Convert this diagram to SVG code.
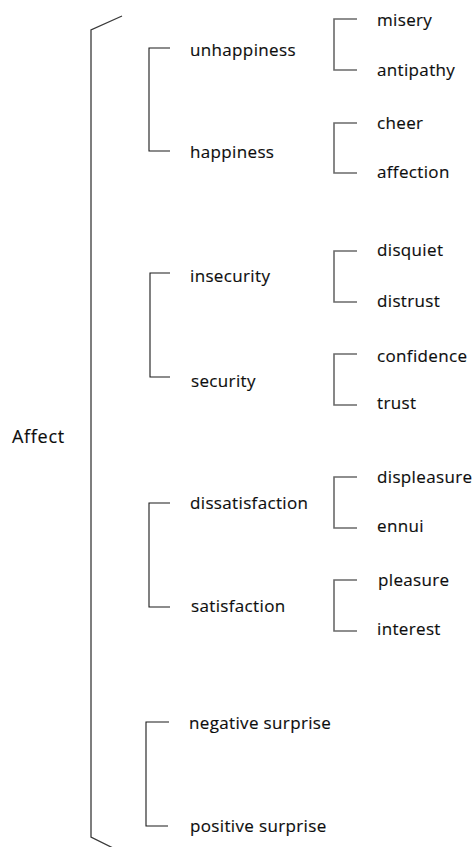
<svg xmlns="http://www.w3.org/2000/svg" width="475" height="847" viewBox="0 0 475 847">
  <style>
    .lbl { font-family: "Open Sans", "Liberation Sans", sans-serif; font-size: 17px; letter-spacing: 0.35px; fill: #0d0d0d; stroke: #0d0d0d; stroke-width: 0.15px; }
    .root { font-size: 18px; letter-spacing: 0.7px; }
    .brace { fill: none; stroke: #3a3a3a; stroke-width: 1.3; }
    .grp { fill: none; stroke: #1a1a1a; stroke-width: 1.1; }
    .sub { fill: none; stroke: #6a6a6a; stroke-width: 1.6; }
  </style>
  <rect width="475" height="847" fill="#ffffff"/>

  <!-- connectors: brackets -->
  <g id="connectors">
    <polyline class="brace" points="122,16 91,30 91,837 113,848"/>

    <polyline class="grp" points="170,48 149,48 149,151 170,151"/>
    <polyline class="grp" points="170,273 150,273 150,377 170,377"/>
    <polyline class="grp" points="170,503 149,503 149,607 170,607"/>
    <polyline class="grp" points="169,722 146,722 146,826 168,826"/>

    <polyline class="sub" points="357,19 334,19 334,70 357,70"/>
    <polyline class="sub" points="357,123 334,123 334,173 357,173"/>
    <polyline class="sub" points="357,251 334,251 334,302 357,302"/>
    <polyline class="sub" points="357,354 334,354 334,405 357,405"/>
    <polyline class="sub" points="357,477 334,477 334,528 357,528"/>
    <polyline class="sub" points="357,580 334,580 334,631 357,631"/>
  </g>

  <!-- root -->
  <g id="affect"><text class="lbl root" x="12" y="443">Affect</text></g>

  <!-- second level -->
  <g id="unhappiness"><text class="lbl" x="190" y="56">unhappiness</text></g>
  <g id="happiness"><text class="lbl" x="190" y="158">happiness</text></g>
  <g id="insecurity"><text class="lbl" x="190" y="282">insecurity</text></g>
  <g id="security"><text class="lbl" x="191" y="387">security</text></g>
  <g id="dissatisfaction"><text class="lbl" x="190" y="509">dissatisfaction</text></g>
  <g id="satisfaction"><text class="lbl" x="191" y="612">satisfaction</text></g>
  <g id="negative-surprise"><text class="lbl" x="189" y="729">negative surprise</text></g>
  <g id="positive-surprise"><text class="lbl" x="190" y="832">positive surprise</text></g>

  <!-- third level -->
  <g id="misery"><text class="lbl" x="377" y="26">misery</text></g>
  <g id="antipathy"><text class="lbl" x="377" y="76">antipathy</text></g>
  <g id="cheer"><text class="lbl" x="377" y="129">cheer</text></g>
  <g id="affection"><text class="lbl" x="377" y="178">affection</text></g>
  <g id="disquiet"><text class="lbl" x="377" y="256">disquiet</text></g>
  <g id="distrust"><text class="lbl" x="377" y="307">distrust</text></g>
  <g id="confidence"><text class="lbl" x="377" y="362">confidence</text></g>
  <g id="trust"><text class="lbl" x="377" y="409">trust</text></g>
  <g id="displeasure"><text class="lbl" x="377" y="483">displeasure</text></g>
  <g id="ennui"><text class="lbl" x="377" y="532">ennui</text></g>
  <g id="pleasure"><text class="lbl" x="378" y="586">pleasure</text></g>
  <g id="interest"><text class="lbl" x="377" y="635">interest</text></g>
</svg>
